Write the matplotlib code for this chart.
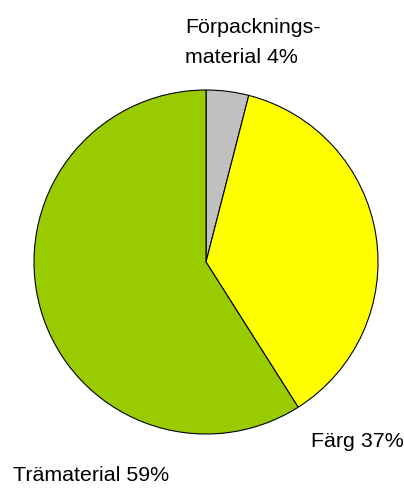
import matplotlib
matplotlib.use("Agg")
import matplotlib.pyplot as plt

label_lines_0 = ["Förpacknings-", "material 4%"]
label_1 = "Färg 37%"
label_2 = "Trämaterial 59%"
values = [4, 37, 59]
colors = ["#C0C0C0", "#FFFF00", "#99CC00"]

plt.rcParams['font.family'] = ['Liberation Sans', 'DejaVu Sans']

W, H = 404, 488
fig = plt.figure(figsize=(W/100, H/100), dpi=100)
ax = fig.add_axes([0, 0, 1, 1])

ax.pie(values, colors=colors, startangle=90, counterclock=False,
       center=(206, H - 262), radius=172,
       wedgeprops=dict(edgecolor='black', linewidth=0.8), frame=True)
ax.set_xlim(0, W)
ax.set_ylim(0, H)
ax.set_aspect('equal')
ax.axis('off')

fs = 15.4
ax.text(185, H - 33, label_lines_0[0], fontsize=fs, ha='left', va='baseline')
ax.text(185, H - 63, label_lines_0[1], fontsize=fs, ha='left', va='baseline')
ax.text(311, H - 447, label_1, fontsize=fs, ha='left', va='baseline')
ax.text(13, H - 481, label_2, fontsize=fs, ha='left', va='baseline')

fig.savefig("out.png", dpi=100)
